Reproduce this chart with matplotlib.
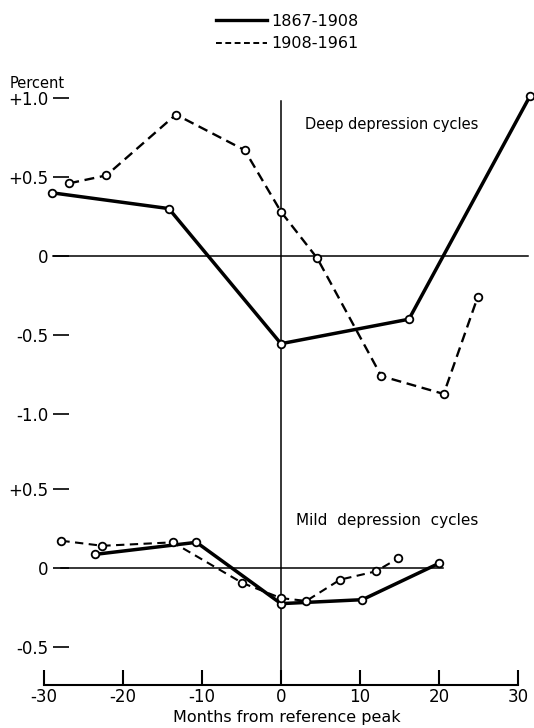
import numpy as np
import matplotlib
matplotlib.use("Agg")
import matplotlib.pyplot as plt
from matplotlib.lines import Line2D

plt.rcParams["font.family"] = ["DejaVu Sans"]

# deep depression cycles (percent, months from reference peak)
deep_months_1867 = [-29.0, -14.2, 0.0, 16.2, 31.5]
deep_vals_1867 = [0.40, 0.30, -0.555, -0.40, 1.01]
deep_months_1908 = [-26.8, -22.1, -13.3, -4.6, 0.0, 4.6, 12.7, 20.6, 24.9]
deep_vals_1908 = [0.46, 0.51, 0.895, 0.67, 0.28, -0.015, -0.76, -0.873, -0.26]

# mild depression cycles
mild_months_1867 = [-23.5, -10.7, 0.0, 10.3, 20.0]
mild_vals_1867 = [0.087, 0.163, -0.225, -0.20, 0.03]
mild_months_1908 = [-27.8, -22.6, -13.7, -4.9, 0.0, 3.2, 7.5, 12.0, 14.8]
mild_vals_1908 = [0.173, 0.141, 0.163, -0.094, -0.19, -0.208, -0.073, -0.021, 0.061]

ytick_labels = ["+1.0", "+0.5", "0", "-0.5", "-1.0", "+0.5", "0", "-0.5"]
xticks = [-30, -20, -10, 0, 10, 20, 30]

# the mild panel is drawn on the same axes, shifted down
mild_offset = -1.975
axis_y = -2.715

fig = plt.figure(figsize=(5.34, 7.28), dpi=100)
ax = fig.add_axes([0, 0, 1, 1])
ax.set_xlim(-35.57, 32.03)
ax.set_ylim(-2.987, 1.62)

solid_kw = dict(color="black", linewidth=2.5, marker="o", markersize=5.5,
                markerfacecolor="white", markeredgewidth=1.3, zorder=3)
dash_kw = dict(color="black", linewidth=1.7, dashes=(4.2, 2.4), marker="o",
               markersize=5.5, markerfacecolor="white", markeredgewidth=1.3, zorder=3)

# reference lines
ax.plot([-28.9, 31.3], [0, 0], color="black", linewidth=1.1)
ax.plot([-27.9, 20.5], [mild_offset, mild_offset], color="black", linewidth=1.1)
ax.plot([0, 0], [axis_y, 0.98], color="black", linewidth=1.1)

ax.plot(deep_months_1867, deep_vals_1867, **solid_kw)
ax.plot(deep_months_1908, deep_vals_1908, **dash_kw)
ax.plot(mild_months_1867, np.array(mild_vals_1867) + mild_offset, **solid_kw)
ax.plot(mild_months_1908, np.array(mild_vals_1908) + mild_offset,
        **dict(dash_kw, linewidth=1.5, dashes=(4.0, 2.6)))

# axes styling
for s in ["top", "right"]:
    ax.spines[s].set_visible(False)
ax.spines["left"].set_position(("data", -26.84))
ax.spines["left"].set_visible(False)
ax.spines["bottom"].set_position(("data", axis_y))
ax.spines["bottom"].set_bounds(-30, 30)
ax.spines["bottom"].set_linewidth(1.5)

yvals = [1.0, 0.5, 0, -0.5, -1.0, 0.5 + mild_offset, mild_offset, -0.5 + mild_offset]
ax.set_yticks(yvals)
ax.set_yticklabels(ytick_labels, fontsize=12)
ax.tick_params(axis="y", direction="out", length=11.5, width=1.2, pad=3)

ax.set_xticks(xticks)
ax.set_xticklabels([str(x) for x in xticks], fontsize=12)
ax.tick_params(axis="x", direction="in", length=11, width=1.5, pad=2)

ax.set_xlabel("Months from reference peak", fontsize=11.5)
ax.xaxis.set_label_coords(0.537, 0.0247)

ax.text(10 / 534, 1 - 83 / 728, "Percent", transform=ax.transAxes,
        fontsize=10.5, va="center", ha="left")
ax.text(305 / 534, 1 - 124 / 728, "Deep depression cycles", transform=ax.transAxes,
        fontsize=10.5, va="center", ha="left")
ax.text(296 / 534, 1 - 520 / 728, "Mild  depression  cycles", transform=ax.transAxes,
        fontsize=11, va="center", ha="left")

handles = [Line2D([], [], color="black", linewidth=2.4),
           Line2D([], [], color="black", linewidth=1.4, dashes=(3.0, 1.8))]
ax.legend(handles, ["1867-1908", "1908-1961"], loc="upper left",
          bbox_to_anchor=(216 / 534, 1 - 14 / 728), frameon=False, fontsize=11.5,
          handlelength=3.2, handletextpad=0.25, labelspacing=0.45,
          borderpad=0, borderaxespad=0)

fig.savefig("out.png", dpi=100)
